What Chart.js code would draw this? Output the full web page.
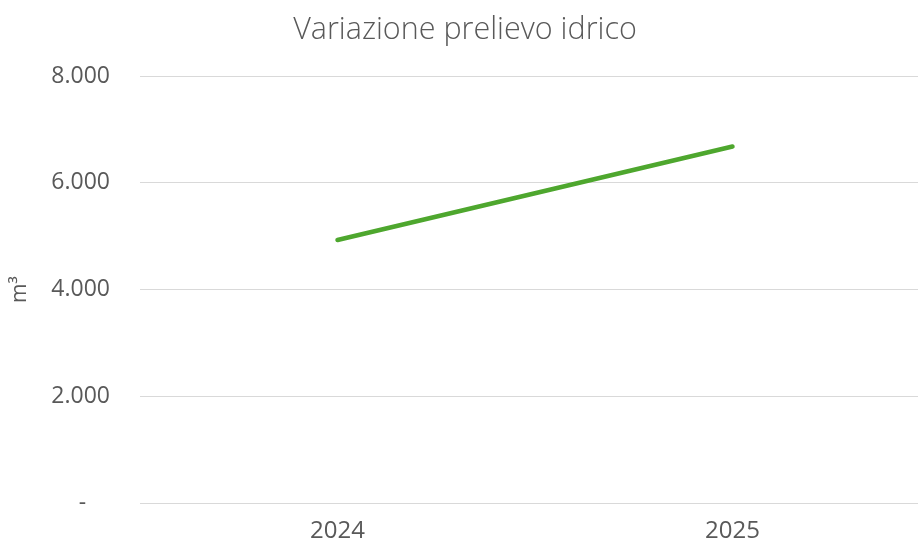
<!DOCTYPE html>
<html>
<head>
<meta charset="utf-8">
<script src="https://cdn.jsdelivr.net/npm/chart.js@4/dist/chart.umd.min.js"></script>
<style>
  html, body { margin: 0; padding: 0; overflow: hidden; background: #fff; }
  #clip { width: 918px; height: 547px; overflow: hidden; }
  #wrap { width: 930px; height: 547px; }
</style>
</head>
<body>
<div id="clip"><div id="wrap"><canvas id="chart"></canvas></div></div>
<script>
// categories and values
var anni = ['2024', '2025'];
var prelievo = [4930, 6680];
var tickValori = [0, 2000, 4000, 6000, 8000];

var grigio = '#595959';
var font = 'Open Sans';

var ctx = document.getElementById('chart');

new Chart(ctx, {
	type : 'line',
	data : {
		labels : anni,
		datasets : [{
			label : 'Prelievo idrico',
			data : prelievo,
			borderColor : '#4ea72e',
			backgroundColor : '#4ea72e',
			borderWidth : 4.5,
			borderCapStyle : 'round',
			pointRadius : 0,
			tension : 0
		}]
	},
	options : {
		responsive : true,
		maintainAspectRatio : false,
		animation : false,
		layout : { padding : 0 },
		plugins : {
			legend : { display : false },
			tooltip : { enabled : false },
			title : {
				display : true,
				text : 'Variazione prelievo idrico',
				color : grigio,
				font : { family : font, size : 30.5, weight : 300, lineHeight : 1.2 },
				padding : { top : 12, bottom : 27.4 }
			}
		},
		scales : {
			x : {
				offset : true,
				grid : { display : false, drawTicks : false },
				border : { display : false },
				ticks : {
					color : grigio,
					padding : 14,
					font : { family : font, size : 24, weight : 'normal' }
				},
				afterFit : function(scale) { scale.height = 41; }
			},
			y : {
				min : 0,
				max : 8000,
				afterBuildTicks : function(scale) {
					scale.ticks = tickValori.map(function(v) { return { value : v }; });
				},
				grid : { color : '#d9d9d9', lineWidth : 1, drawTicks : false },
				border : { display : false },
				ticks : {
					color : grigio,
					padding : 30,
					font : { family : font, size : 23, weight : 'normal' },
					callback : function(v) {
						if (v === 0) return '-    ';
						return v.toLocaleString('it-IT').replace(',', '.');
					}
				},
				title : {
					display : true,
					text : 'm³',
					color : grigio,
					font : { family : font, size : 21, weight : 'normal' },
					padding : { top : 7, bottom : 4 }
				},
				afterFit : function(scale) { scale.width = 140; }
			}
		}
	}
});
</script>
</body>
</html>
